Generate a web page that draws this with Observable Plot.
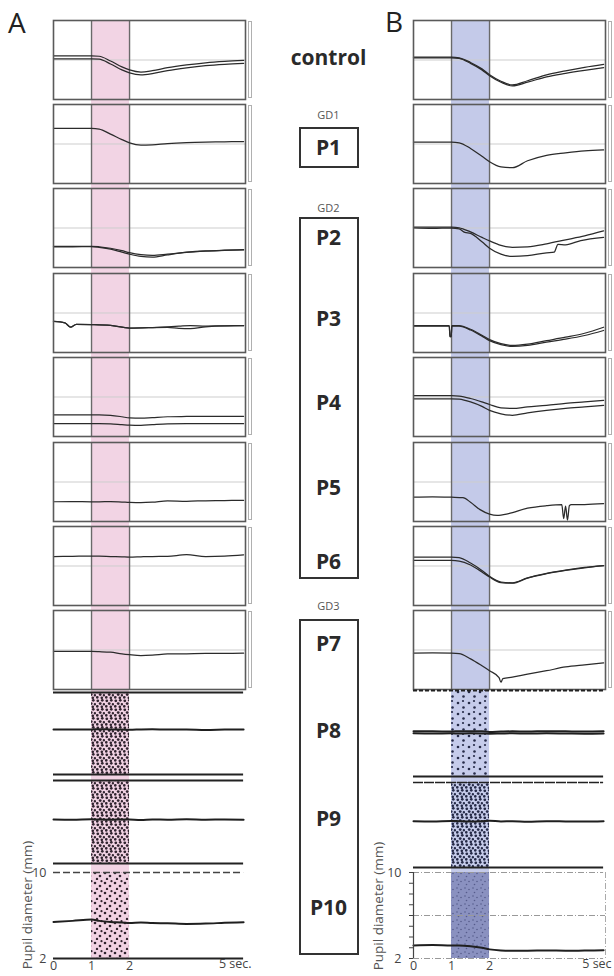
<!DOCTYPE html>
<html>
<head>
<meta charset="utf-8">
<script src="https://cdn.jsdelivr.net/npm/d3@7"></script>
<script src="https://cdn.jsdelivr.net/npm/@observablehq/plot@0.6"></script>
<style>
html,body{margin:0;padding:0;background:#fff;}
#fig{position:relative;width:614px;height:976px;overflow:hidden;font-family:"Open Sans",sans-serif;color:#222;}
.pl{position:absolute;}
.letter{position:absolute;font-size:28px;font-weight:400;line-height:1;color:#222;}
.lab{position:absolute;transform:translate(-50%,-50%);white-space:nowrap;line-height:1;}
.big{font-size:21px;font-weight:700;color:#2a2a2a;}
.gd{font-size:11px;color:#555;}
.box{position:absolute;border:2px solid #333;box-sizing:border-box;}
.ylab{position:absolute;font-size:13.5px;color:#555;line-height:1;transform:translate(-50%,-50%) rotate(-90deg);white-space:nowrap;}
.sbar{position:absolute;width:2px;border:1px solid #b0b0b0;}
</style>
</head>
<body>
<svg width="0" height="0" style="position:absolute">
<defs>
<pattern id="dotsA" width="9" height="9" patternUnits="userSpaceOnUse">
<rect width="9" height="9" fill="#f1d2e3"/>
<circle cx="1.8" cy="1.8" r="1.4" fill="#30242f"/><circle cx="6.3" cy="1.3" r="1.35" fill="#30242f"/>
<circle cx="4.2" cy="4.6" r="1.4" fill="#30242f"/><circle cx="7.9" cy="5.2" r="1.2" fill="#30242f"/>
<circle cx="1.3" cy="7.3" r="1.35" fill="#30242f"/><circle cx="5.8" cy="7.8" r="1.3" fill="#30242f"/>
</pattern>
<pattern id="dotsA2" width="10" height="10" patternUnits="userSpaceOnUse">
<rect width="10" height="10" fill="#f1d2e3"/>
<circle cx="2" cy="3" r="1.3" fill="#30242f"/><circle cx="7" cy="6" r="1.3" fill="#30242f"/>
<circle cx="4" cy="9" r="1.2" fill="#30242f"/><circle cx="8.5" cy="1.2" r="1.1" fill="#30242f"/>
</pattern>
<pattern id="dotsB" width="11" height="11" patternUnits="userSpaceOnUse">
<rect width="11" height="11" fill="#c6cceb"/>
<circle cx="3" cy="4" r="1.3" fill="#262b48"/><circle cx="8.5" cy="8.5" r="1.3" fill="#262b48"/>
<circle cx="8" cy="2" r="1.1" fill="#262b48"/>
</pattern>
<pattern id="dotsB2" width="9" height="9" patternUnits="userSpaceOnUse">
<rect width="9" height="9" fill="#c6cceb"/>
<circle cx="1.8" cy="1.8" r="1.4" fill="#262b48"/><circle cx="6.3" cy="1.3" r="1.35" fill="#262b48"/>
<circle cx="4.2" cy="4.6" r="1.4" fill="#262b48"/><circle cx="7.9" cy="5.2" r="1.2" fill="#262b48"/>
<circle cx="1.3" cy="7.3" r="1.35" fill="#262b48"/><circle cx="5.8" cy="7.8" r="1.3" fill="#262b48"/>
</pattern>
<pattern id="dotsB3" width="8" height="8" patternUnits="userSpaceOnUse">
<rect width="8" height="8" fill="#8a91c0"/>
<circle cx="2" cy="2" r="0.8" fill="#565c8c"/><circle cx="6" cy="3.5" r="0.8" fill="#565c8c"/>
<circle cx="3.5" cy="6.5" r="0.8" fill="#565c8c"/>
</pattern>
</defs>
</svg>
<div id="fig"></div>
<script>
// ---------- data ----------
const stimWindow = [1, 2];          // stimulus (s)
const timeSpan = [0, 5];            // recording (s)
const refLevel = [6];               // reference line (mm)
const yRange = [2, 10];             // pupil diameter (mm)
const xTickValues = [0, 1, 2];
const tGrid = [0, 0.5, 1, 1.2, 1.5, 1.8, 2, 2.3, 2.6, 3, 3.5, 4, 4.5, 5];

// Column A
const aCtrl1 = [6.42,6.42,6.42,6.38,5.9,5.3,5.0,4.78,4.92,5.22,5.5,5.72,5.86,5.95];
const aCtrl2 = [6.12,6.12,6.12,6.08,5.6,5.0,4.7,4.5,4.62,4.92,5.2,5.42,5.56,5.65];
const aP1 = [7.57,7.57,7.57,7.5,7.0,6.45,6.12,5.88,5.92,6.05,6.15,6.2,6.22,6.25];
const aP2a = [4.13,4.13,4.15,4.1,3.95,3.7,3.5,3.3,3.22,3.35,3.55,3.68,3.75,3.8];
const aP2b = [4.1,4.1,4.12,4.05,3.85,3.55,3.35,3.12,3.06,3.28,3.52,3.66,3.74,3.78];
const tAP3 = [0,0.3,0.45,0.6,1,1.5,2,2.5,3,3.3,3.6,4,4.5,5];
const aP3a = [5.14,5.0,4.56,4.85,4.83,4.75,4.48,4.52,4.6,4.66,4.72,4.68,4.7,4.72];
const aP3b = [5.14,5.0,4.56,4.85,4.83,4.75,4.48,4.52,4.55,4.45,4.42,4.6,4.7,4.72];
const aP4a = [4.2,4.2,4.2,4.2,4.15,4.0,3.88,3.86,3.92,4.0,4.03,4.05,4.05,4.05];
const aP4b = [3.3,3.3,3.3,3.3,3.28,3.2,3.15,3.13,3.2,3.28,3.3,3.3,3.3,3.3];
const aP5 = [4.0,4.02,4.0,4.0,4.02,3.97,3.93,3.9,3.95,4.1,4.05,4.1,4.12,4.15];
const aP6 = [6.96,6.98,7.0,7.0,6.96,6.93,6.9,6.93,6.96,6.98,7.14,6.96,7.0,7.13];
const aP7 = [5.85,5.85,5.85,5.83,5.78,5.6,5.52,5.44,5.48,5.6,5.62,5.66,5.66,5.68];
const aP8 = [6.4,6.38,6.4,6.42,6.4,6.38,6.36,6.4,6.42,6.38,6.4,6.35,6.38,6.4];
const aP9 = [6.24,6.22,6.26,6.24,6.22,6.25,6.24,6.2,6.24,6.22,6.26,6.22,6.24,6.22];
const aP10 = [5.4,5.5,5.62,5.5,5.4,5.35,5.3,5.35,5.3,5.28,5.22,5.25,5.32,5.38];

// Column B
const bCtrl1 = [6.28,6.28,6.28,6.22,5.75,5.1,4.5,3.85,3.48,3.9,4.5,4.9,5.25,5.55];
const bCtrl2 = [6.22,6.22,6.22,6.16,5.66,5.0,4.4,3.75,3.38,3.75,4.3,4.65,4.95,5.22];
const bP1 = [6.18,6.18,6.18,6.12,5.55,4.75,4.2,3.68,3.6,4.3,4.85,5.1,5.3,5.4];
const bP2a = [6.08,6.1,6.08,6.02,5.6,5.05,4.7,4.25,4.05,4.1,4.4,4.8,5.2,5.7];
const tBP2 = [0,0.5,1,1.2,1.35,1.5,1.8,2,2.3,2.6,3,3.5,3.7,3.8,4,4.4,5];
const bP2b = [6.0,5.95,6.0,5.92,5.55,5.45,4.6,3.95,3.35,3.12,3.2,3.48,3.55,4.35,4.3,4.73,5.06];
const tBP3 = [0,0.5,0.94,0.96,0.99,1.01,1.2,1.5,1.8,2,2.3,2.6,3,3.5,4,4.5,5];
const bP3a = [4.73,4.73,4.73,3.6,3.6,4.73,4.72,4.35,3.75,3.3,2.9,2.72,2.85,3.2,3.55,3.95,4.56];
const bP3b = [4.68,4.68,4.68,3.6,3.6,4.68,4.66,4.28,3.66,3.2,2.8,2.62,2.72,3.05,3.35,3.72,4.23];
const bP4a = [6.15,6.15,6.15,6.1,5.85,5.5,5.24,4.9,4.85,5.0,5.15,5.35,5.5,5.65];
const bP4b = [5.82,5.82,5.82,5.78,5.5,5.05,4.65,4.3,4.15,4.4,4.65,4.85,5.0,5.15];
const tBP5 = [0,0.5,1,1.3,1.5,1.75,2,2.2,2.5,3,3.5,3.9,3.95,4.0,4.05,4.1,4.15,4.5,5];
const bP5 = [4.46,4.5,4.46,4.42,3.95,3.2,2.75,2.62,2.8,3.35,3.6,3.7,2.3,3.55,2.15,3.6,3.72,3.72,3.8];
const bP6a = [6.9,6.9,6.9,6.85,6.3,5.55,4.95,4.38,4.3,4.8,5.25,5.58,5.85,6.05];
const bP6b = [6.56,6.56,6.56,6.5,6.1,5.4,4.88,4.32,4.26,4.78,5.22,5.55,5.82,6.03];
const tBP7 = [0,0.5,1,1.2,1.5,1.8,2,2.25,2.3,2.35,2.6,3,3.5,4,4.5,5];
const bP7 = [5.68,5.7,5.68,5.64,5.1,4.4,3.9,3.2,2.74,3.1,3.25,3.55,3.9,4.28,4.5,4.7];
const bP8a = [6.2,6.2,6.18,6.22,6.2,6.2,6.15,6.18,6.2,6.18,6.22,6.2,6.18,6.2];
const bP8b = [6.02,6.0,6.02,6.0,6.02,6.0,5.98,6.0,6.02,6.0,6.02,6.0,5.98,6.0];
const bP9 = [6.36,6.34,6.38,6.36,6.33,6.36,6.4,6.34,6.36,6.3,6.36,6.34,6.32,6.36];
const bP10 = [3.22,3.25,3.2,3.22,3.15,3.0,2.85,2.75,2.72,2.72,2.75,2.72,2.74,2.76];

const panelNames = ["control","P1","P2","P3","P4","P5","P6","P7","P8","P9","P10"];

// ---------- layout ----------
const fig = document.getElementById("fig");
const colLeft = {A: 53, B: 413};
const PW = 192;
const xDomain = [timeSpan[0], 5.05];
const frameTops = [20, 104, 188, 273, 357, 442, 526, 610];
const frameH = 79;
const rasterRows = {A: [[692, 774], [780, 863], [872, 958]], B: [[690, 776], [782, 867], [872, 958]]};
const bandColor = {A: "#f2d4e4", B: "#c4cae9"};
const stim = [{start: stimWindow[0], end: stimWindow[1]}];
const baseStyle = {background: "transparent", overflow: "visible", fontFamily: "Open Sans", fontSize: "12.5px", color: "#444"};
const intFmt = d => String(d);

const ser = (t, v) => t.map((ti, i) => ({t: ti, v: v[i]}));

function place(svg, left, top) {
  const d = document.createElement("div");
  d.className = "pl";
  d.style.left = left + "px";
  d.style.top = top + "px";
  d.appendChild(svg);
  fig.appendChild(d);
}
function html(cls, text, x, y, extra) {
  const d = document.createElement("div");
  d.className = cls;
  d.textContent = text;
  d.style.left = x + "px";
  d.style.top = y + "px";
  if (extra) Object.assign(d.style, extra);
  fig.appendChild(d);
  return d;
}

// background stimulus band per column
for (const col of ["A", "B"]) {
  const top = frameTops[0], bottom = rasterRows[col][2][1];
  place(Plot.plot({
    width: PW + 4, height: bottom - top,
    marginLeft: 2, marginRight: 2, marginTop: 0, marginBottom: 0,
    x: {domain: xDomain, axis: null}, y: {domain: yRange, axis: null},
    style: baseStyle,
    marks: [Plot.rect(stim, {x1: "start", x2: "end", fill: bandColor[col]})]
  }), colLeft[col] - 2, top);
}

// framed trace panels
function tracePanel(col, i, lines) {
  const top = frameTops[i];
  place(Plot.plot({
    width: PW + 4, height: frameH + 4,
    marginLeft: 2, marginRight: 2, marginTop: 2, marginBottom: 2,
    x: {domain: xDomain, axis: null}, y: {domain: yRange, axis: null},
    style: baseStyle,
    marks: [
      Plot.ruleY(refLevel, {stroke: "#cdcdcd", strokeWidth: 1}),
      Plot.ruleX(stimWindow, {stroke: "#6a6a6a", strokeWidth: 1.4}),
      ...lines.map(s => Plot.line(s, {x: "t", y: "v", curve: "monotone-x", stroke: "#2b2b2b", strokeWidth: 1.25})),
      Plot.frame({stroke: "#5a5a5a", strokeWidth: 1.6})
    ]
  }), colLeft[col] - 2, top - 2);
  const bx = col === "A" ? 248 : 608;
  html("sbar", "", bx, top + 1, {height: (frameH - 4) + "px"});
}

tracePanel("A", 0, [ser(tGrid, aCtrl1), ser(tGrid, aCtrl2)]);
tracePanel("A", 1, [ser(tGrid, aP1)]);
tracePanel("A", 2, [ser(tGrid, aP2a), ser(tGrid, aP2b)]);
tracePanel("A", 3, [ser(tAP3, aP3a), ser(tAP3, aP3b)]);
tracePanel("A", 4, [ser(tGrid, aP4a), ser(tGrid, aP4b)]);
tracePanel("A", 5, [ser(tGrid, aP5)]);
tracePanel("A", 6, [ser(tGrid, aP6)]);
tracePanel("A", 7, [ser(tGrid, aP7)]);

tracePanel("B", 0, [ser(tGrid, bCtrl1), ser(tGrid, bCtrl2)]);
tracePanel("B", 1, [ser(tGrid, bP1)]);
tracePanel("B", 2, [ser(tGrid, bP2a), ser(tBP2, bP2b)]);
tracePanel("B", 3, [ser(tBP3, bP3a), ser(tBP3, bP3b)]);
tracePanel("B", 4, [ser(tGrid, bP4a), ser(tGrid, bP4b)]);
tracePanel("B", 5, [ser(tBP5, bP5)]);
tracePanel("B", 6, [ser(tGrid, bP6a), ser(tGrid, bP6b)]);
tracePanel("B", 7, [ser(tBP7, bP7)]);

// raster-style panels (P8, P9, P10)
function rasterPanel(col, r, o) {
  const [top, bottom] = rasterRows[col][r];
  const mL = o.mL || 2, mB = o.mB || 2;
  const marks = [
    Plot.rect(stim, {x1: "start", x2: "end", fill: o.fill}),
    ...(o.extra || []),
    Plot.ruleY([yRange[1]], {x1: timeSpan[0], x2: timeSpan[1], stroke: o.topColor || "#222", strokeWidth: o.topWidth || 2, strokeDasharray: o.topDash}),
    Plot.ruleY([yRange[0]], {x1: timeSpan[0], x2: timeSpan[1], stroke: o.botColor || "#222", strokeWidth: o.botWidth || 2.2, strokeDasharray: o.botDash}),
    ...o.lines.map(s => Plot.line(s, {x: "t", y: "v", curve: "monotone-x", stroke: "#1f1f1f", strokeWidth: 2})),
    ...(o.post || [])
  ];
  place(Plot.plot({
    width: PW + mL + 2, height: bottom - top + 2 + mB,
    marginLeft: mL, marginRight: 2, marginTop: 2, marginBottom: mB,
    x: o.xAxis || {domain: xDomain, axis: null},
    y: o.yAxis || {domain: yRange, axis: null},
    style: baseStyle,
    marks
  }), colLeft[col] - mL, top - 2);
}

rasterPanel("A", 0, {fill: "url(#dotsA)", lines: [ser(tGrid, aP8)]});
rasterPanel("A", 1, {fill: "url(#dotsA)", lines: [ser(tGrid, aP9)]});
rasterPanel("A", 2, {
  fill: "url(#dotsA2)", lines: [ser(tGrid, aP10)], topDash: "7,3", topColor: "#444", topWidth: 1.6,
  mL: 30, mB: 18,
  xAxis: {domain: xDomain, ticks: xTickValues, tickFormat: intFmt, tickSize: 0, tickPadding: 3, label: null},
  yAxis: {domain: yRange, ticks: yRange, tickFormat: intFmt, tickSize: 0, tickPadding: 7, label: null},
  post: [Plot.text(["5 sec."], {x: timeSpan[1], frameAnchor: "bottom", textAnchor: "end", dx: 8, dy: 9, fontSize: 12.5, fill: "#444"})]
});

rasterPanel("B", 0, {fill: "url(#dotsB)", lines: [ser(tGrid, bP8a), ser(tGrid, bP8b)], topDash: "4,2", topWidth: 1.8});
rasterPanel("B", 1, {fill: "url(#dotsB2)", lines: [ser(tGrid, bP9)], topWidth: 1.4, topDash: "10,1"});
rasterPanel("B", 2, {
  fill: "url(#dotsB3)", lines: [ser(tGrid, bP10)],
  topDash: "6,2,1,2", topColor: "#999", topWidth: 1.2,
  botDash: "6,2,1,2", botColor: "#999", botWidth: 1.2,
  extra: [
    Plot.ruleY(refLevel, {x1: timeSpan[0], x2: xDomain[1], stroke: "#999", strokeWidth: 1.2, strokeDasharray: "6,2,1,2"}),
    Plot.ruleX([xDomain[1]], {stroke: "#aaa", strokeWidth: 1, strokeDasharray: "6,2,1,2"})
  ],
  post: [
    Plot.ruleX([timeSpan[0]], {stroke: "#444", strokeWidth: 1.2}),
    Plot.text(["5 sec"], {x: timeSpan[1], frameAnchor: "bottom", textAnchor: "end", dx: 8, dy: 9, fontSize: 12.5, fill: "#444"})
  ],
  mL: 30, mB: 18,
  xAxis: {domain: xDomain, ticks: xTickValues, tickFormat: intFmt, tickSize: 0, tickPadding: 3, label: null},
  yAxis: {domain: yRange, ticks: d3.range(yRange[0], yRange[1] + 1), tickSize: 4, tickPadding: 8, label: null,
          tickFormat: d => (d === yRange[0] || d === yRange[1]) ? String(d) : ""}
});

// ---------- text ----------
html("letter", "A", 8, 8);
html("letter", "B", 385, 7);
html("ylab", "Pupil diameter (mm)", 28, 905);
html("ylab", "Pupil diameter (mm)", 379, 906);

const midX = 328.5;
html("lab big", "control", midX, 57);
html("lab gd", "GD1", midX, 114);
html("lab gd", "GD2", midX, 207);
html("lab gd", "GD3", midX, 605);
const boxes = [[127, 168], [217, 579], [619, 955]];
for (const [t, b] of boxes) {
  const d = document.createElement("div");
  d.className = "box";
  Object.assign(d.style, {left: "299px", width: "60px", top: t + "px", height: (b - t) + "px"});
  fig.appendChild(d);
}
const labelY = [147, 237, 318, 402, 487, 561, 643, 730, 818, 907];
panelNames.slice(1).forEach((n, i) => html("lab big", n, midX, labelY[i]));
</script>
</body>
</html>
